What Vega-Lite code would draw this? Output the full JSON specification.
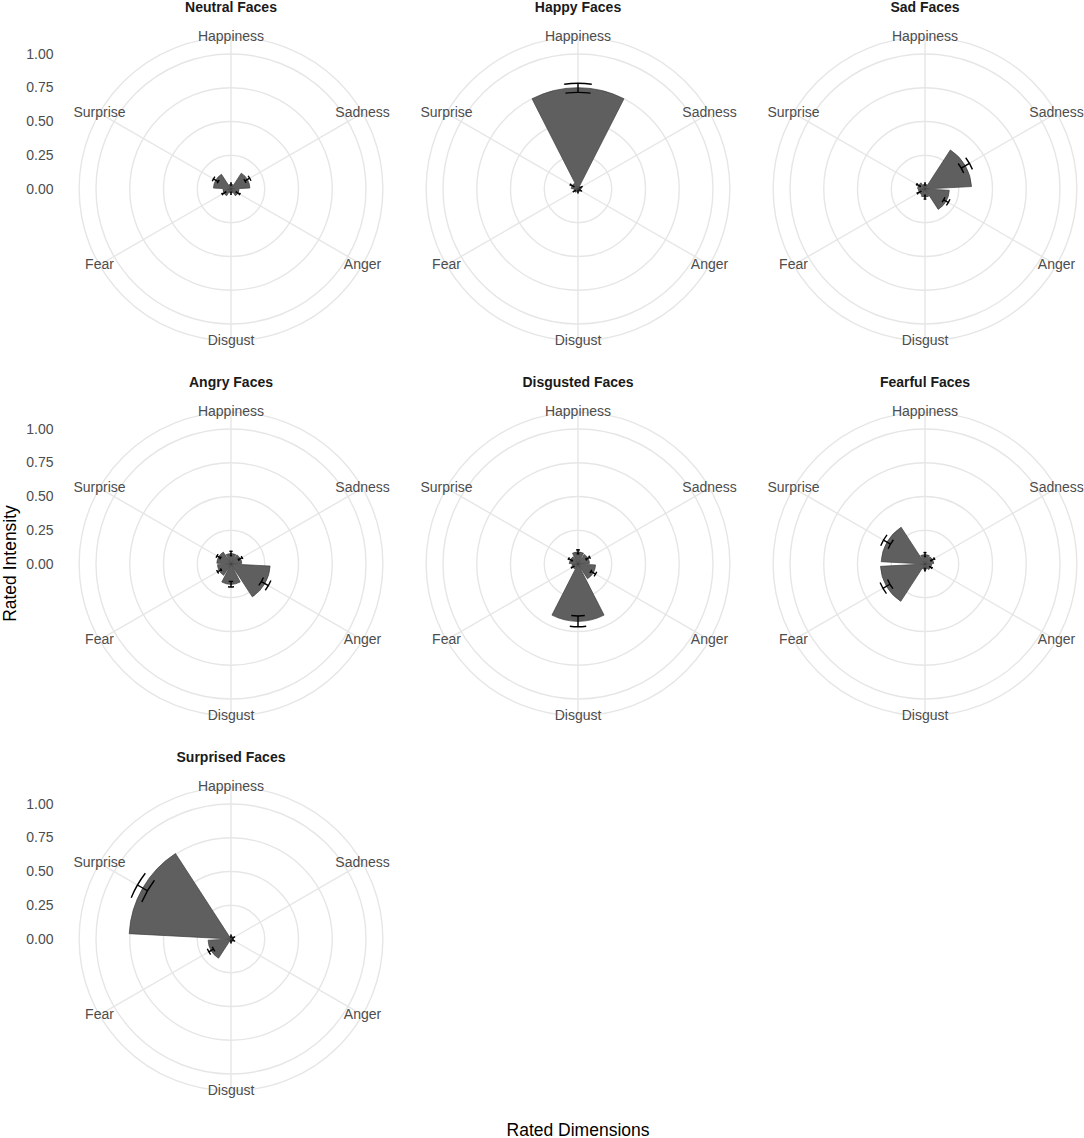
{
  "$schema": "https://vega.github.io/schema/vega-lite/v6.json",
  "padding": {"top": 1, "left": 2, "right": 0, "bottom": 0},
  "background": "white",
  "config": {
    "font": "Liberation Sans",
    "view": {"stroke": null}
  },
  "title": {"text": "Rated Dimensions", "orient": "bottom", "anchor": "middle", "fontSize": 17.5, "fontWeight": "normal", "color": "black", "offset": 14, "dx": 35},
  "vconcat": [
    {
      "title": {"text": "Rated Intensity", "orient": "left", "anchor": "middle", "fontSize": 17.5, "fontWeight": "normal", "color": "black", "offset": 6, "dx": -9},
      "data": {
        "values": [
          {"face": "Neutral Faces", "dim": "Happiness", "mean": 0.035, "lo": 0.025, "hi": 0.045},
          {"face": "Neutral Faces", "dim": "Sadness", "mean": 0.14, "lo": 0.12, "hi": 0.16},
          {"face": "Neutral Faces", "dim": "Anger", "mean": 0.06, "lo": 0.045, "hi": 0.075},
          {"face": "Neutral Faces", "dim": "Disgust", "mean": 0.03, "lo": 0.02, "hi": 0.04},
          {"face": "Neutral Faces", "dim": "Fear", "mean": 0.06, "lo": 0.045, "hi": 0.075},
          {"face": "Neutral Faces", "dim": "Surprise", "mean": 0.13, "lo": 0.11, "hi": 0.15},
          {"face": "Happy Faces", "dim": "Happiness", "mean": 0.75, "lo": 0.716, "hi": 0.783},
          {"face": "Happy Faces", "dim": "Sadness", "mean": 0.025, "lo": 0.015, "hi": 0.035},
          {"face": "Happy Faces", "dim": "Anger", "mean": 0.02, "lo": 0.01, "hi": 0.03},
          {"face": "Happy Faces", "dim": "Disgust", "mean": 0.02, "lo": 0.01, "hi": 0.03},
          {"face": "Happy Faces", "dim": "Fear", "mean": 0.03, "lo": 0.02, "hi": 0.04},
          {"face": "Happy Faces", "dim": "Surprise", "mean": 0.05, "lo": 0.035, "hi": 0.065},
          {"face": "Sad Faces", "dim": "Happiness", "mean": 0.035, "lo": 0.025, "hi": 0.045},
          {"face": "Sad Faces", "dim": "Sadness", "mean": 0.345, "lo": 0.31, "hi": 0.38},
          {"face": "Sad Faces", "dim": "Anger", "mean": 0.18, "lo": 0.16, "hi": 0.2},
          {"face": "Sad Faces", "dim": "Disgust", "mean": 0.06, "lo": 0.045, "hi": 0.075},
          {"face": "Sad Faces", "dim": "Fear", "mean": 0.05, "lo": 0.035, "hi": 0.065},
          {"face": "Sad Faces", "dim": "Surprise", "mean": 0.055, "lo": 0.04, "hi": 0.07},
          {"face": "Angry Faces", "dim": "Happiness", "mean": 0.078, "lo": 0.062, "hi": 0.094},
          {"face": "Angry Faces", "dim": "Sadness", "mean": 0.08, "lo": 0.065, "hi": 0.095},
          {"face": "Angry Faces", "dim": "Anger", "mean": 0.29, "lo": 0.26, "hi": 0.32},
          {"face": "Angry Faces", "dim": "Disgust", "mean": 0.15, "lo": 0.13, "hi": 0.17},
          {"face": "Angry Faces", "dim": "Fear", "mean": 0.1, "lo": 0.085, "hi": 0.115},
          {"face": "Angry Faces", "dim": "Surprise", "mean": 0.105, "lo": 0.09, "hi": 0.12},
          {"face": "Disgusted Faces", "dim": "Happiness", "mean": 0.09, "lo": 0.075, "hi": 0.105},
          {"face": "Disgusted Faces", "dim": "Sadness", "mean": 0.085, "lo": 0.07, "hi": 0.1},
          {"face": "Disgusted Faces", "dim": "Anger", "mean": 0.13, "lo": 0.11, "hi": 0.15},
          {"face": "Disgusted Faces", "dim": "Disgust", "mean": 0.425, "lo": 0.385, "hi": 0.465},
          {"face": "Disgusted Faces", "dim": "Fear", "mean": 0.045, "lo": 0.035, "hi": 0.055},
          {"face": "Disgusted Faces", "dim": "Surprise", "mean": 0.065, "lo": 0.05, "hi": 0.08},
          {"face": "Fearful Faces", "dim": "Happiness", "mean": 0.07, "lo": 0.055, "hi": 0.085},
          {"face": "Fearful Faces", "dim": "Sadness", "mean": 0.065, "lo": 0.05, "hi": 0.08},
          {"face": "Fearful Faces", "dim": "Anger", "mean": 0.05, "lo": 0.04, "hi": 0.06},
          {"face": "Fearful Faces", "dim": "Disgust", "mean": 0.04, "lo": 0.03, "hi": 0.05},
          {"face": "Fearful Faces", "dim": "Fear", "mean": 0.33, "lo": 0.3, "hi": 0.36},
          {"face": "Fearful Faces", "dim": "Surprise", "mean": 0.325, "lo": 0.295, "hi": 0.355},
          {"face": "Surprised Faces", "dim": "Happiness", "mean": 0.02, "lo": 0.01, "hi": 0.03},
          {"face": "Surprised Faces", "dim": "Sadness", "mean": 0.02, "lo": 0.01, "hi": 0.03},
          {"face": "Surprised Faces", "dim": "Anger", "mean": 0.02, "lo": 0.01, "hi": 0.03},
          {"face": "Surprised Faces", "dim": "Disgust", "mean": 0.02, "lo": 0.01, "hi": 0.03},
          {"face": "Surprised Faces", "dim": "Fear", "mean": 0.17, "lo": 0.15, "hi": 0.19},
          {"face": "Surprised Faces", "dim": "Surprise", "mean": 0.755, "lo": 0.715, "hi": 0.8}
        ]
      },
      "facet": {
        "field": "face",
        "type": "nominal",
        "title": null,
        "sort": ["Neutral Faces", "Happy Faces", "Sad Faces", "Angry Faces", "Disgusted Faces", "Fearful Faces", "Surprised Faces"],
        "header": {"labelFontSize": 14, "labelFontWeight": "bold", "labelColor": "#1a1a1a", "labelPadding": 5}
      },
      "columns": 3,
      "spacing": {"row": 18, "column": 30},
      "spec": {
        "width": 310,
        "height": 338,
        "resolve": {"scale": {"theta": "independent"}},
        "layer": [
          {
            "transform": [{"filter": "datum.dim === 'Happiness'"}],
            "mark": {"type": "arc", "filled": false, "stroke": "#e6e6e6", "strokeWidth": 1.4},
            "encoding": {
              "theta": {"value": 0}, "theta2": {"value": 6.2832},
              "radius": {"datum": 0.25, "type": "quantitative", "scale": {"type": "linear", "domain": [0, 1], "range": [0, 135], "zero": true, "nice": false}}
            }
          },
          {
            "transform": [{"filter": "datum.dim === 'Happiness'"}],
            "mark": {"type": "arc", "filled": false, "stroke": "#e6e6e6", "strokeWidth": 1.4},
            "encoding": {
              "theta": {"value": 0}, "theta2": {"value": 6.2832},
              "radius": {"datum": 0.5, "type": "quantitative"}
            }
          },
          {
            "transform": [{"filter": "datum.dim === 'Happiness'"}],
            "mark": {"type": "arc", "filled": false, "stroke": "#e6e6e6", "strokeWidth": 1.4},
            "encoding": {
              "theta": {"value": 0}, "theta2": {"value": 6.2832},
              "radius": {"datum": 0.75, "type": "quantitative"}
            }
          },
          {
            "transform": [{"filter": "datum.dim === 'Happiness'"}],
            "mark": {"type": "arc", "filled": false, "stroke": "#e6e6e6", "strokeWidth": 1.4},
            "encoding": {
              "theta": {"value": 0}, "theta2": {"value": 6.2832},
              "radius": {"datum": 1, "type": "quantitative"}
            }
          },
          {
            "transform": [{"filter": "datum.dim === 'Happiness'"}],
            "mark": {"type": "arc", "filled": false, "stroke": "#e6e6e6", "strokeWidth": 1.4},
            "encoding": {
              "theta": {"value": 0}, "theta2": {"value": 6.2832},
              "radius": {"datum": 1.125, "type": "quantitative"}
            }
          },
          {
            "mark": {"type": "arc", "filled": false, "stroke": "#e6e6e6", "strokeWidth": 1.4},
            "encoding": {
              "theta": {"field": "dim", "type": "nominal", "scale": {"type": "band", "domain": ["Happiness", "Sadness", "Anger", "Disgust", "Fear", "Surprise"], "range": [-0.5235988, 5.7595865], "paddingInner": 1, "paddingOuter": 0.5}},
              "radius": {"datum": 1.125, "type": "quantitative"}
            }
          },
          {
            "mark": {"type": "text", "fontSize": 14, "color": "#4d4d4d", "align": "center", "baseline": "middle"},
            "encoding": {
              "theta": {"field": "dim", "type": "nominal", "scale": {"type": "band", "domain": ["Happiness", "Sadness", "Anger", "Disgust", "Fear", "Surprise"], "range": [-0.5235988, 5.7595865], "paddingInner": 1, "paddingOuter": 0.5}},
              "radius": {"datum": 1.125, "type": "quantitative"},
              "text": {"field": "dim", "type": "nominal"}
            }
          },
          {
            "mark": {"type": "arc", "fill": "#5f5f5f", "stroke": "#3d3d3d", "strokeWidth": 0.7},
            "encoding": {
              "theta": {"field": "dim", "type": "nominal", "scale": {"type": "band", "domain": ["Happiness", "Sadness", "Anger", "Disgust", "Fear", "Surprise"], "range": [-0.5235988, 5.7595865], "paddingInner": 0.1, "paddingOuter": 0.05}},
              "radius": {"field": "mean", "type": "quantitative", "stack": null}
            }
          },
          {
            "mark": {"type": "arc", "filled": false, "stroke": "black", "strokeWidth": 1.4},
            "encoding": {
              "theta": {"field": "dim", "type": "nominal", "scale": {"type": "band", "domain": ["Happiness", "Sadness", "Anger", "Disgust", "Fear", "Surprise"], "range": [-0.5235988, 5.7595865], "paddingInner": 1, "paddingOuter": 0.5}},
              "radius": {"field": "lo", "type": "quantitative"},
              "radius2": {"field": "hi"}
            }
          },
          {
            "transform": [{"fold": ["lo", "hi"], "as": ["end", "r"]}],
            "mark": {"type": "arc", "filled": false, "stroke": "black", "strokeWidth": 1.4},
            "encoding": {
              "theta": {"field": "dim", "type": "nominal", "scale": {"type": "band", "domain": ["Happiness", "Sadness", "Anger", "Disgust", "Fear", "Surprise"], "range": [-0.5235988, 5.7595865], "paddingInner": 0.75, "paddingOuter": 0.375}},
              "radius": {"field": "r", "type": "quantitative"},
              "radius2": {"field": "r"}
            }
          },
          {
            "mark": {"type": "point", "opacity": 0},
            "encoding": {
              "y": {
                "field": "mean",
                "type": "quantitative",
                "scale": {"domain": [-1.2519, 1.2519], "nice": false, "zero": false},
                "axis": {"values": [0, 0.25, 0.5, 0.75, 1], "format": ".2f", "title": null, "domain": false, "ticks": false, "grid": false, "labelFontSize": 14, "labelColor": "#4d4d4d", "labelPadding": 20}
              }
            }
          }
        ]
      }
    }
  ]
}
